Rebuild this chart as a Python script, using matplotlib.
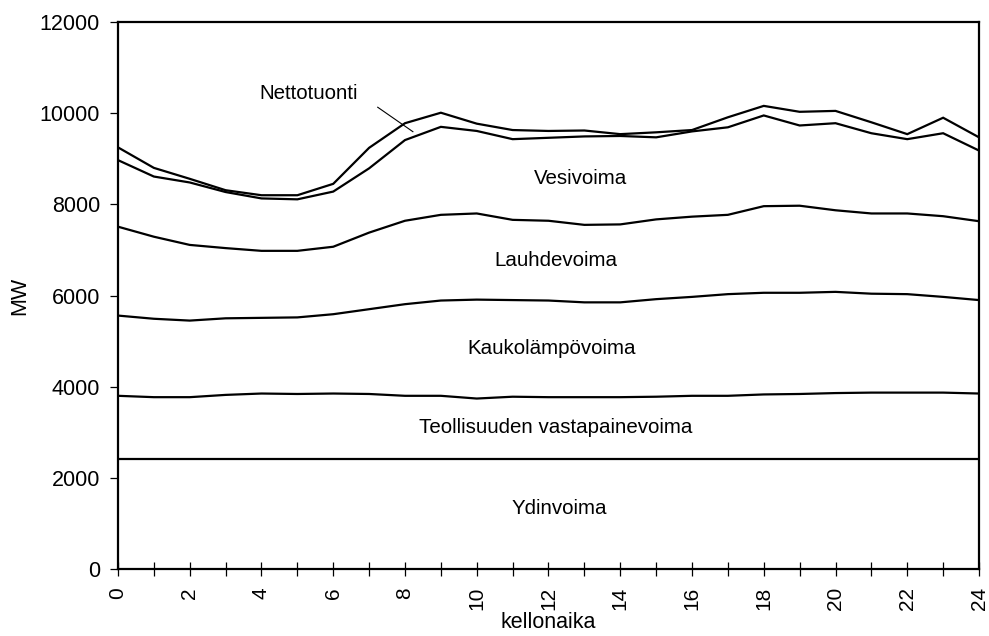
import matplotlib
matplotlib.use("Agg")
import matplotlib.pyplot as plt

plt.rcParams["font.family"] = ["Liberation Sans", "DejaVu Sans"]

# hours of the day
hours = list(range(25))

# cumulative levels (MW), bottom to top
ydinvoima = [2410] * 25
teollisuus = [3800, 3770, 3770, 3820, 3850, 3840, 3850, 3840, 3800, 3800, 3740, 3780, 3770,
              3770, 3770, 3780, 3800, 3800, 3830, 3840, 3860, 3870, 3870, 3870, 3850]
kaukolampo = [5560, 5490, 5450, 5500, 5510, 5520, 5590, 5700, 5810, 5890, 5910, 5900, 5890,
              5850, 5850, 5920, 5970, 6030, 6060, 6060, 6080, 6040, 6030, 5970, 5900]
lauhde = [7510, 7290, 7110, 7040, 6980, 6980, 7070, 7380, 7640, 7770, 7800, 7660, 7640,
          7550, 7560, 7670, 7730, 7770, 7960, 7970, 7870, 7800, 7800, 7740, 7630]
vesivoima = [8970, 8610, 8480, 8270, 8130, 8110, 8280, 8790, 9410, 9700, 9610, 9430, 9460,
             9490, 9500, 9470, 9600, 9690, 9950, 9730, 9780, 9560, 9430, 9560, 9180]
nettotuonti = [9250, 8800, 8560, 8310, 8200, 8200, 8450, 9240, 9780, 10010, 9770, 9630, 9610,
               9620, 9540, 9580, 9630, 9910, 10160, 10030, 10050, 9800, 9540, 9900, 9470]

labels = ["Ydinvoima", "Teollisuuden vastapainevoima", "Kaukolämpövoima",
          "Lauhdevoima", "Vesivoima"]
label_pos = [(12.3, 1320), (12.2, 3110), (12.1, 4830), (12.2, 6760), (12.9, 8560)]

FS = 14.8

fig = plt.figure(figsize=(9.89, 6.36), dpi=100)
ax = fig.add_axes([0.1193, 0.1053, 0.8706, 0.8601])

for series in (ydinvoima, teollisuus, kaukolampo, lauhde, vesivoima, nettotuonti):
    ax.plot(hours, series, color="black", lw=1.6, solid_joinstyle="miter")

for txt, (x, y) in zip(labels, label_pos):
    ax.text(x, y, txt, ha="center", va="center", fontsize=FS)

ax.text(5.3, 10440, "Nettotuonti", ha="center", va="center", fontsize=FS)
ax.plot([7.24, 8.22], [10130, 9594], color="black", lw=0.8)

ax.set_xlim(0, 24)
ax.set_ylim(0, 12000)
ax.set_yticks(range(0, 12001, 2000))
ax.set_xticks(hours)
ax.set_xticklabels([str(h) if h % 2 == 0 else "" for h in hours], rotation=90)
ax.tick_params(axis="x", direction="inout", length=10, width=0.9, labelsize=15, pad=8)
ax.tick_params(axis="y", direction="out", length=6, width=0.9, labelsize=15.5, pad=7)
for sp in ax.spines.values():
    sp.set_linewidth(1.6)

ax.set_xlabel("kellonaika", fontsize=15.5, labelpad=1)
ax.set_ylabel("MW", fontsize=15.5, labelpad=7)

fig.savefig("out.png", dpi=100, facecolor="white")
